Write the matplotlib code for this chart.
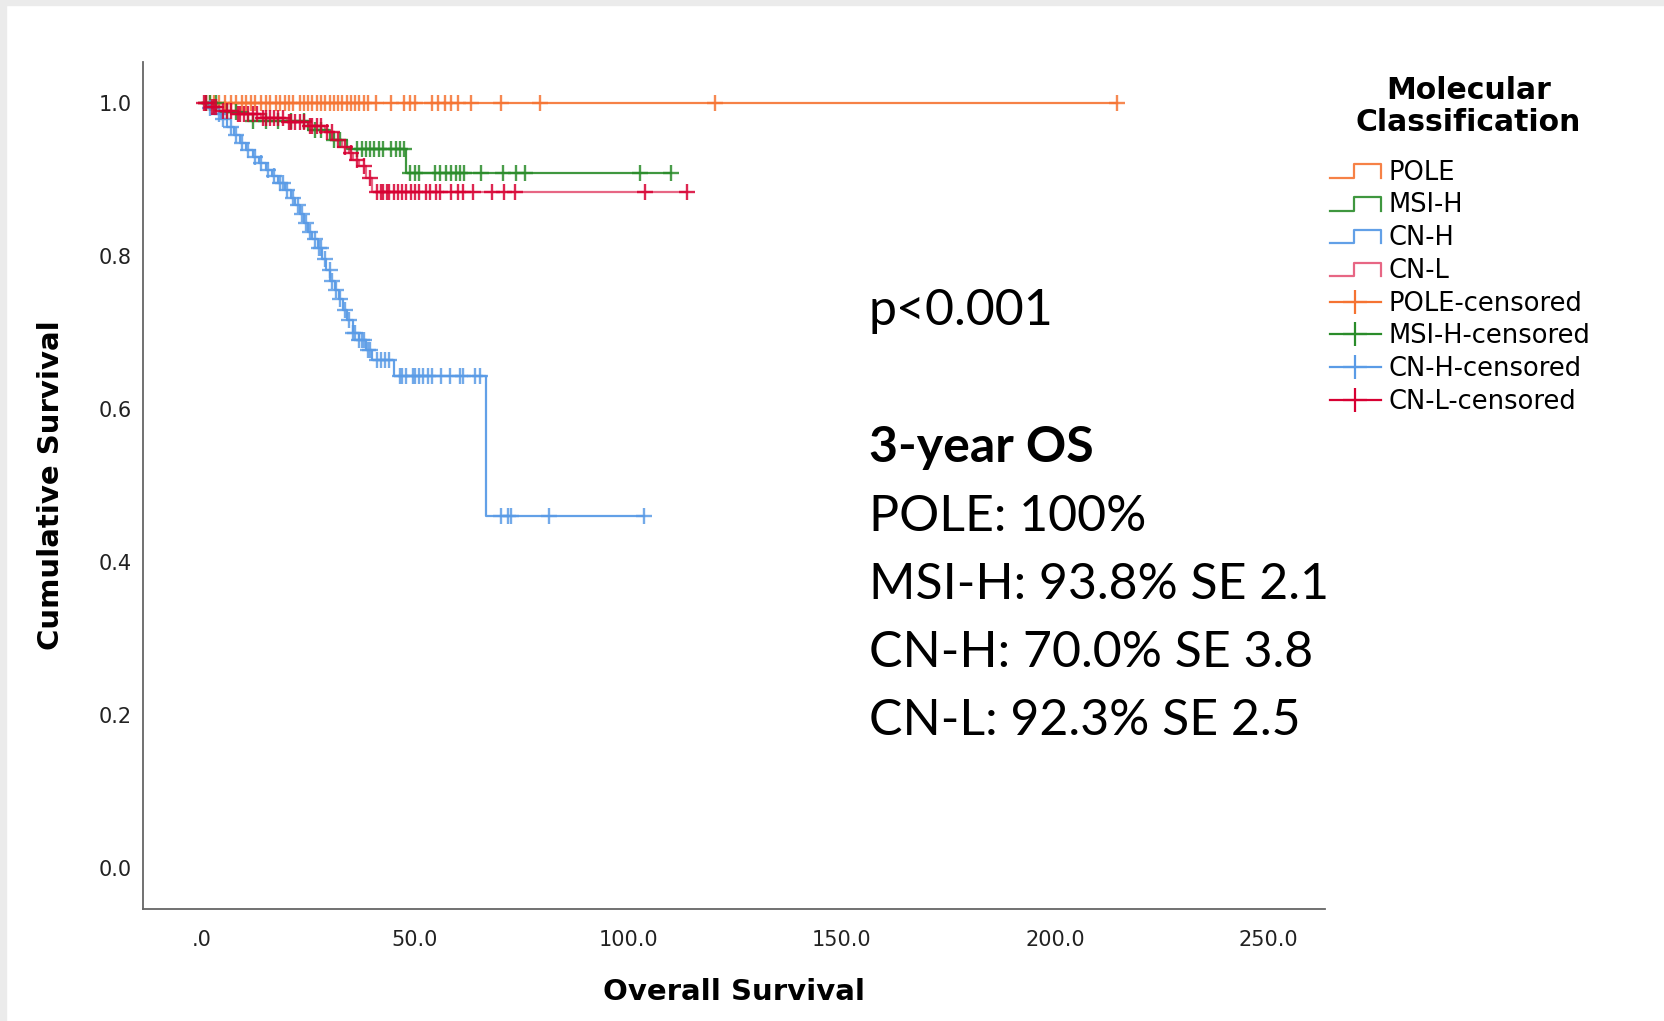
import numpy as np
import matplotlib
matplotlib.use('Agg')
from matplotlib import pyplot as plt
from matplotlib.lines import Line2D
from matplotlib.legend_handler import HandlerBase
from matplotlib.patches import Rectangle

# Kaplan-Meier steps (time, survival after event) and censor times
pole_t = [0.0]
pole_s = [1.0]
pole_cens = [1, 2, 3, 4, 5.5, 7, 8, 9.5, 10.5, 11.5, 12.5, 14, 15, 16, 17.5, 18.5, 19.5,
             20.5, 21.5, 23, 24, 25, 26, 27, 28, 29, 30, 31, 32, 33, 34, 35, 36, 37, 38, 39,
             40.8, 44.5, 47.4, 48.8, 50, 53.9, 55.3, 57.1, 58.5, 60, 63.2, 70.2, 79.2,
             120.3, 214.4]

msi_t = [0, 4, 11, 25, 30, 34, 48]
msi_s = [1.0, 0.988, 0.976, 0.964, 0.952, 0.940, 0.909]
msi_cens = [1, 2, 3.5, 6, 8, 12, 15, 18, 21, 24, 26.5, 28, 31, 32.5, 36.5, 37.5, 38.5,
            39.5, 40.5, 41.5, 42.5, 44.5, 45.5, 46.5, 47.5, 48.8, 50, 51, 54.6, 55.8, 57.3,
            58.5, 59.7, 60.5, 61.6, 65.5, 70.6, 73.7, 75.9, 102.7, 110]

cnh_t = [0, 1.5, 3, 4.5, 6, 7.5, 9, 10.5, 12, 13.5, 15, 16.5, 18, 19.5, 21, 22, 23, 24,
         25, 26, 27.3, 28.3, 29.2, 30.2, 31.2, 32.2, 33.2, 34.2, 35.5, 37, 38.5, 40, 45,
         66.6]
cnh_s = [1.0, 0.993, 0.986, 0.979, 0.968, 0.958, 0.948, 0.938, 0.929, 0.921, 0.912, 0.904,
         0.895, 0.886, 0.876, 0.866, 0.855, 0.843, 0.832, 0.822, 0.810, 0.796, 0.782, 0.768,
         0.756, 0.744, 0.730, 0.716, 0.700, 0.690, 0.677, 0.664, 0.643, 0.460]
cnh_cens = [2, 4, 5, 7, 8, 9.5, 11, 12.5, 14, 15.5, 17, 18.5, 19, 20, 21.5, 22.5, 23.5,
            24.5, 25.5, 26.5, 27.5, 28, 29, 30, 30.5, 31.5, 32.5, 33.5, 34.5, 35.5, 36,
            37, 37.5, 38, 39, 39.5, 41, 42, 43, 44, 46.5, 47, 48, 49.5, 50, 51, 52, 53, 54,
            56.2, 58.3, 60.5, 61.2, 64, 65.2, 70.2, 71.8, 72.6, 81.5, 103.6]

cnl_t = [0, 2, 4, 8, 14, 20, 25, 29, 31, 33, 34.5, 35.5, 37, 38.5, 40]
cnl_s = [1.0, 0.995, 0.990, 0.985, 0.980, 0.975, 0.970, 0.962, 0.952, 0.943, 0.934, 0.926,
         0.917, 0.902, 0.884]
cnl_cens = [0.5, 1, 2.5, 3, 3.5, 5, 6, 7, 8.5, 9, 10, 11, 12, 13, 14.5, 15, 16, 17, 18, 19,
            20.5, 21, 22, 23, 24, 25.5, 26, 27, 28, 29.5, 30.5, 32, 33.5, 35, 36.5, 38, 39.5,
            41, 42, 42.5, 43.5, 44, 45, 46, 47, 48, 49, 50, 51, 52.5, 53.5, 55, 55.8, 58.5,
            60, 61.2, 63.6, 68, 70.8, 73.4, 103.9, 113.8]

groups = ['POLE', 'MSI-H', 'CN-H', 'CN-L']
colors = ['#F57332', '#2A8C2A', '#5A9BE6', '#D70032']
line_alpha = [0.9, 0.9, 0.95, 0.6]

os_text = ['POLE: 100%', 'MSI-H: 93.8% SE 2.1', 'CN-H: 70.0% SE 3.8', 'CN-L: 92.3% SE 2.5']


def surv_at(times, surv, t):
    idx = np.searchsorted(times, t, side='right') - 1
    return np.asarray(surv)[idx]


class StepHandler(HandlerBase):
    def create_artists(self, legend, orig_handle, xdescent, ydescent, width, height,
                       fontsize, trans):
        x0, y0 = -xdescent, -ydescent
        xs = [x0, x0 + 0.47 * width, x0 + 0.47 * width, x0 + width, x0 + width]
        ys = [y0 + 0.1 * height, y0 + 0.1 * height, y0 + 0.85 * height,
              y0 + 0.85 * height, y0 + 0.1 * height]
        ln = Line2D(xs, ys, color=orig_handle.get_color(), alpha=orig_handle.get_alpha(),
                    lw=orig_handle.get_linewidth())
        ln.set_transform(trans)
        return [ln]


fig = plt.figure(figsize=(16.65, 10.21), dpi=100)
fig.patches.append(Rectangle((0, 1 - 5 / 1021), 1, 5 / 1021, transform=fig.transFigure,
                             color='#EBEBEB', zorder=-1))
fig.patches.append(Rectangle((0, 0), 6 / 1665, 1, transform=fig.transFigure,
                             color='#EBEBEB', zorder=-1))
ax = fig.add_axes([0.0859, 0.1097, 0.7099, 0.83])

all_t = [pole_t, msi_t, cnh_t, cnl_t]
all_s = [pole_s, msi_s, cnh_s, cnl_s]
all_c = [pole_cens, msi_cens, cnh_cens, cnl_cens]

step_handles = []
cens_handles = []
for name, t, s, c, col, a in zip(groups, all_t, all_s, all_c, colors, line_alpha):
    end = max(c)
    ln, = ax.step(np.r_[t, end], np.r_[s, s[-1]], where='post', color=col, lw=1.6,
                  alpha=a, zorder=2)
    cy = surv_at(t, s, np.array(c))
    ax.plot(c, cy, ls='none', marker='+', ms=12, mew=1.7, color=col, alpha=0.85, zorder=3)
    step_handles.append(ln)
    cens_handles.append(Line2D([], [], color=col, lw=1.6, marker='+', ms=17, mew=1.6))

ax.set_xlim(-13.7, 263.2)
ax.set_ylim(-0.053, 1.054)
ax.set_xticks([0, 50, 100, 150, 200, 250])
ax.set_xticklabels(['.0', '50.0', '100.0', '150.0', '200.0', '250.0'])
ax.set_yticks([0, 0.2, 0.4, 0.6, 0.8, 1.0])
ax.set_yticklabels(['0.0', '0.2', '0.4', '0.6', '0.8', '1.0'])
ax.tick_params(length=0, labelsize=15, colors='#222222')
ax.tick_params(axis='x', pad=15)
ax.tick_params(axis='y', pad=8)
for sp in ['top', 'right']:
    ax.spines[sp].set_visible(False)
for sp in ['left', 'bottom']:
    ax.spines[sp].set_color('#666666')
    ax.spines[sp].set_linewidth(1.3)

ax.set_xlabel('Overall Survival', fontsize=21, fontweight='bold', labelpad=20)
ax.set_ylabel('Cumulative Survival', fontsize=21, fontweight='bold', labelpad=24)

hmap = {h: StepHandler() for h in step_handles}
leg = fig.legend(step_handles + cens_handles,
                 groups + [g + '-censored' for g in groups],
                 loc='upper left', bbox_to_anchor=(0.7985, 0.8435), frameon=False,
                 fontsize=18.5, handler_map=hmap, handlelength=2.0, handletextpad=0.28,
                 labelspacing=0.26, borderpad=0, borderaxespad=0)
fig.text(0.882, 0.9116, 'Molecular', fontsize=21.5, fontweight='bold', ha='center',
         va='center')
fig.text(0.882, 0.8805, 'Classification', fontsize=21.5, fontweight='bold', ha='center',
         va='center')

tfont = 'Lato'
fig.text(0.5217, 0.6817, 'p<0.001', fontsize=36, family=tfont, va='baseline')
fig.text(0.5217, 0.5476, '3-year OS', fontsize=36, family=tfont, fontweight='bold',
         va='baseline')
for i, line in enumerate(os_text):
    fig.text(0.5217, [0.4799, 0.4134, 0.3468, 0.2803][i], line, fontsize=36, family=tfont,
             va='baseline')

fig.savefig('out.png', dpi=100)
